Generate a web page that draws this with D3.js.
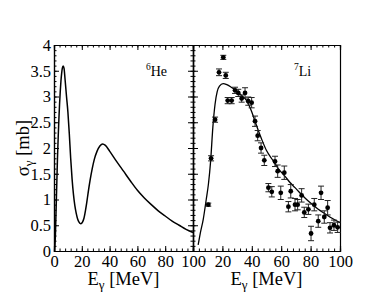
<!DOCTYPE html>
<html>
<head>
<meta charset="utf-8">
<script src="https://cdn.jsdelivr.net/npm/d3@7"></script>
<style>
  body { margin: 0; background: #fff; }
  text { font-family: "Liberation Serif", "DejaVu Serif", serif; fill: #000; }
  .domain { stroke: #000; stroke-width: 1.2; }
  .tick line { stroke: #000; stroke-width: 1; }
</style>
</head>
<body>
<div id="chart"></div>
<script>
// 6He curve (E in MeV, sigma in mb)
const heE = [0.5, 1, 1.5, 2, 2.5, 3, 3.5, 4, 4.5, 5, 5.5, 6, 6.6, 7.2, 8, 9, 10, 11, 12, 13, 14, 15, 16, 17, 18, 19.3, 20.5, 21.5, 22.6, 23.5, 24.5, 26, 27.5, 29, 31, 33, 35, 37, 40, 45, 50, 55, 60, 65, 70, 75, 80, 85, 90, 95, 100];
const heS = [0, 0.3, 0.8, 1.3, 1.8, 2.2, 2.55, 2.85, 3.1, 3.3, 3.45, 3.55, 3.59, 3.55, 3.32, 3.0, 2.7, 2.28, 1.8, 1.4, 1.1, 0.88, 0.73, 0.62, 0.56, 0.53, 0.56, 0.63, 0.78, 0.93, 1.12, 1.38, 1.6, 1.78, 1.94, 2.04, 2.08, 2.05, 1.94, 1.74, 1.55, 1.36, 1.18, 1.03, 0.9, 0.78, 0.68, 0.58, 0.5, 0.42, 0.36];

// 7Li curve
const liE = [3.5, 5, 7, 9, 10.5, 12, 13.5, 15, 16.5, 18, 20.5, 23, 26, 29, 33, 36.5, 40, 43, 46.7, 50, 54.6, 58, 62.6, 66, 69.4, 73, 76.2, 80, 85.2, 90, 94.3, 100];
const liS = [0.12, 0.35, 0.62, 1.0, 1.3, 1.75, 2.4, 2.85, 3.1, 3.2, 3.25, 3.23, 3.18, 3.12, 3.02, 2.92, 2.7, 2.45, 2.17, 1.95, 1.75, 1.6, 1.45, 1.33, 1.23, 1.12, 1.03, 0.93, 0.81, 0.72, 0.64, 0.55];

// 7Li data points with errors
const ptE = [10.4, 12.3, 15.0, 17.7, 20.6, 22.3, 23.6, 26.3, 28.6, 30.8, 33.1, 35.4, 37.6, 39.9, 42.2, 44.0, 46.3, 48.5, 51.3, 53.6, 55.8, 57.6, 59.7, 62.1, 64.9, 66.5, 69.4, 71.2, 73.9, 75.7, 78.5, 80.3, 82.5, 85.2, 87.1, 89.3, 91.6, 93.2, 95.9, 98.4];
const ptS = [0.9, 1.8, 2.55, 3.47, 3.76, 3.41, 2.92, 2.92, 3.12, 3.07, 2.96, 3.07, 2.91, 2.88, 2.52, 2.24, 2.0, 1.76, 1.23, 1.15, 1.74, 1.55, 1.13, 1.52, 0.86, 1.16, 0.9, 0.9, 1.08, 0.75, 0.81, 0.34, 0.9, 0.58, 1.13, 0.66, 0.84, 0.45, 0.5, 0.46];
const ptErr = [0.03, 0.05, 0.05, 0.065, 0.04, 0.06, 0.06, 0.06, 0.06, 0.07, 0.07, 0.1, 0.08, 0.1, 0.1, 0.1, 0.1, 0.1, 0.08, 0.1, 0.1, 0.12, 0.13, 0.13, 0.1, 0.13, 0.12, 0.1, 0.13, 0.1, 0.1, 0.14, 0.12, 0.12, 0.13, 0.12, 0.14, 0.1, 0.1, 0.1];

const yTicks = [0, 0.5, 1, 1.5, 2, 2.5, 3, 3.5, 4];
const xTicks = [0, 20, 40, 60, 80, 100];

const W = 385, H = 298;
const yTop = 45, yBottom = 251;

const svg = d3.select("#chart").append("svg")
    .attr("width", W)
    .attr("height", H);

const y = d3.scaleLinear().domain([0, 4]).range([yBottom, yTop]);
const xL = d3.scaleLinear().domain([0, 100]).range([54, 193]);
const xR = d3.scaleLinear().domain([0, 100]).range([193, 340]);

const minorX = d3.range(0, 101, 4);
const minorY = d3.range(0, 4.01, 0.1).map(v => +v.toFixed(1));

function frame(x, showYLabels, rightTicks, xLabels) {
    const g = svg.append("g");
    // bottom axis
    g.append("g").attr("transform", `translate(0,${yBottom})`)
        .call(d3.axisBottom(x).tickValues(minorX).tickSize(-2.5).tickFormat(""));
    g.append("g").attr("transform", `translate(0,${yBottom})`)
        .call(d3.axisBottom(x).tickValues(xLabels).tickSize(-5).tickPadding(4).tickFormat(d3.format("d")))
        .selectAll("text").style("font-size", "16.5px");
    // top axis
    g.append("g").attr("transform", `translate(0,${yTop})`)
        .call(d3.axisTop(x).tickValues(minorX).tickSize(-2.5).tickFormat(""));
    g.append("g").attr("transform", `translate(0,${yTop})`)
        .call(d3.axisTop(x).tickValues(xTicks).tickSize(-5).tickFormat(""));
    // left axis
    const x0 = x.range()[0], x1 = x.range()[1];
    g.append("g").attr("transform", `translate(${x0},0)`)
        .call(d3.axisLeft(y).tickValues(minorY).tickSize(-2.5).tickFormat(""));
    const la = g.append("g").attr("transform", `translate(${x0},0)`)
        .call(d3.axisLeft(y).tickValues(yTicks).tickSize(-5).tickPadding(3)
            .tickFormat(showYLabels ? d3.format("") : ""));
    la.selectAll("text").style("font-size", "16.5px");
    // right axis
    const ra = g.append("g").attr("transform", `translate(${x1},0)`);
    if (rightTicks) {
        ra.call(d3.axisRight(y).tickValues(minorY).tickSize(-2.5).tickFormat(""));
        g.append("g").attr("transform", `translate(${x1},0)`)
            .call(d3.axisRight(y).tickValues(yTicks).tickSize(-5).tickFormat(""));
    } else {
        ra.call(d3.axisRight(y).tickValues([]).tickSize(0));
    }
    g.selectAll(".domain").attr("stroke-width", 1.2);
}

frame(xL, true, true, xTicks);
frame(xR, false, false, xTicks.slice(1));

const line = (x) => d3.line()
    .x(d => x(d[0]))
    .y(d => y(d[1]))
    .curve(d3.curveMonotoneX);

svg.append("path")
    .datum(heE.map((e, i) => [e, heS[i]]))
    .attr("fill", "none")
    .attr("stroke", "#000")
    .attr("stroke-width", 1.5)
    .attr("d", line(xL));

svg.append("path")
    .datum(liE.map((e, i) => [e, liS[i]]))
    .attr("fill", "none")
    .attr("stroke", "#000")
    .attr("stroke-width", 1.3)
    .attr("d", line(xR));

// error bars
const pts = ptE.map((e, i) => ({ e: e, s: ptS[i], err: ptErr[i] }));
const eb = svg.append("g").attr("stroke", "#222").attr("stroke-width", 1);
eb.selectAll(".bar").data(pts).enter().append("line")
    .attr("x1", d => xR(d.e)).attr("x2", d => xR(d.e))
    .attr("y1", d => y(d.s - d.err)).attr("y2", d => y(d.s + d.err));
eb.selectAll(".capT").data(pts).enter().append("line")
    .attr("x1", d => xR(d.e) - 3).attr("x2", d => xR(d.e) + 3)
    .attr("y1", d => y(d.s + d.err)).attr("y2", d => y(d.s + d.err));
eb.selectAll(".capB").data(pts).enter().append("line")
    .attr("x1", d => xR(d.e) - 3).attr("x2", d => xR(d.e) + 3)
    .attr("y1", d => y(d.s - d.err)).attr("y2", d => y(d.s - d.err));

svg.selectAll(".pt").data(pts).enter().append("circle")
    .attr("cx", d => xR(d.e))
    .attr("cy", d => y(d.s))
    .attr("r", 2.4)
    .attr("fill", "#000");

// panel labels
const he = svg.append("text").attr("x", 146).attr("y", 76).style("font-size", "14px");
he.append("tspan").text("6").style("font-size", "9.5px").attr("dy", -6);
he.append("tspan").text("He").attr("dy", 6);
const li = svg.append("text").attr("x", 294).attr("y", 76).style("font-size", "14px");
li.append("tspan").text("7").style("font-size", "9.5px").attr("dy", -6);
li.append("tspan").text("Li").attr("dy", 6);

// axis titles
function eLabel(cx) {
    const t = svg.append("text").attr("x", cx).attr("y", 285)
        .attr("text-anchor", "middle").style("font-size", "18.5px");
    t.append("tspan").text("E");
    t.append("tspan").text("γ").style("font-size", "13px").attr("dy", 4);
    t.append("tspan").text(" [MeV]").attr("dy", -4);
}
eLabel((xL.range()[0] + xL.range()[1]) / 2);
eLabel((xR.range()[0] + xR.range()[1]) / 2);

const yl = svg.append("text")
    .attr("transform", `translate(29,${(yTop + yBottom) / 2}) rotate(-90)`)
    .attr("text-anchor", "middle").style("font-size", "18.5px");
yl.append("tspan").text("σ");
yl.append("tspan").text("γ").style("font-size", "13px").attr("dy", 4);
yl.append("tspan").text(" [mb]").attr("dy", -4);
</script>
</body>
</html>
